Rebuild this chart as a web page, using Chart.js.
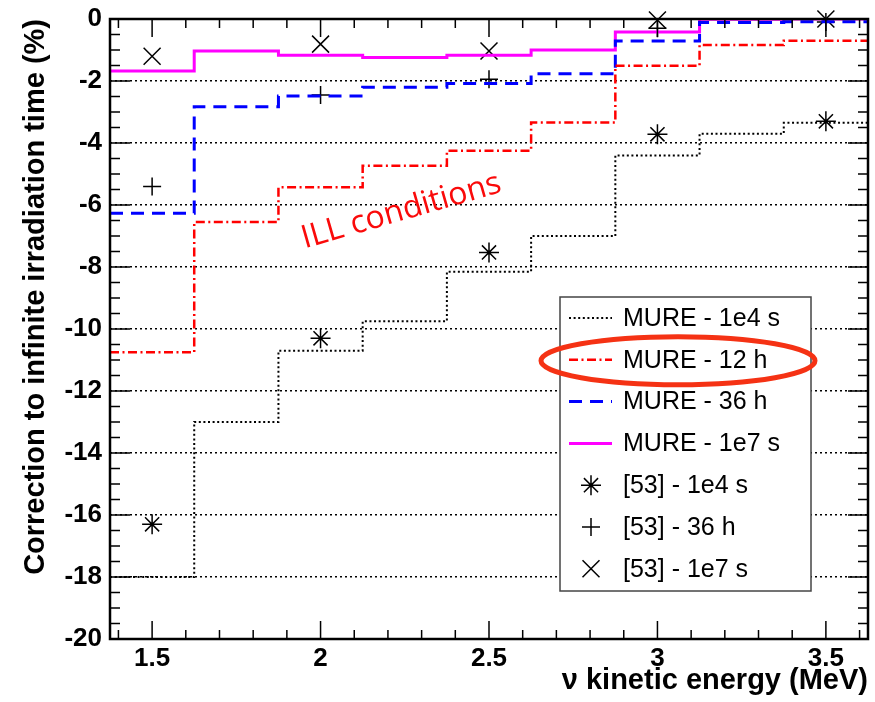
<!DOCTYPE html>
<html>
<head>
<meta charset="utf-8">
<script src="https://cdn.jsdelivr.net/npm/chart.js"></script>
<style>
  html, body { margin: 0; padding: 0; background: #fff; }
  #chart { display: block; }
</style>
</head>
<body>
<canvas id="chart" width="875" height="702"></canvas>
<script>
// energy bins (MeV), each 0.25 wide
const binCenters = [1.5, 1.75, 2.0, 2.25, 2.5, 2.75, 3.0, 3.25, 3.5];
const binWidth = 0.25;

// MURE correction (%) per bin
const mure1e4s = [-18.0, -13.0, -10.7, -9.75, -8.15, -7.0, -4.4, -3.7, -3.35];
const mure12h  = [-10.75, -6.55, -5.43, -4.73, -4.25, -3.34, -1.51, -0.84, -0.7];
const mure36h  = [-6.27, -2.83, -2.48, -2.2, -2.08, -1.77, -0.71, -0.11, -0.09];
const mure1e7s = [-1.68, -1.03, -1.17, -1.24, -1.17, -1.0, -0.42, -0.01, 0.0];

// reference [53] points
const refEnergies = [1.5, 2.0, 2.5, 3.0, 3.5];
const ref1e4s = [-16.3, -10.3, -7.53, -3.72, -3.3];
const ref36h  = [-5.4, -2.45, -1.94, -0.3, -0.1];
const ref1e7s = [-1.2, -0.81, -1.03, -0.03, 0.0];

const xTicks = [1.5, 2, 2.5, 3, 3.5];
const yTicks = [0, -2, -4, -6, -8, -10, -12, -14, -16, -18, -20];

const FONT = '"Liberation Sans", Arial, Helvetica, sans-serif';

// histogram outline: each bin gives a left and right corner
function stepLine(values) {
  const pts = [];
  values.forEach((v, i) => {
    pts.push({ x: binCenters[i] - binWidth / 2, y: v });
    pts.push({ x: binCenters[i] + binWidth / 2, y: v });
  });
  return pts;
}

function refPoints(ys) {
  return refEnergies.map((x, i) => ({ x: x, y: ys[i] }));
}

function drawMarker(ctx, style, r, px, py) {
  ctx.beginPath();
  const d = r * Math.SQRT1_2;
  if (style === 'cross' || style === 'star') {
    ctx.moveTo(px - r, py); ctx.lineTo(px + r, py);
    ctx.moveTo(px, py - r); ctx.lineTo(px, py + r);
  }
  if (style === 'crossRot' || style === 'star') {
    ctx.moveTo(px - d, py - d); ctx.lineTo(px + d, py + d);
    ctx.moveTo(px - d, py + d); ctx.lineTo(px + d, py - d);
  }
  ctx.stroke();
}

// ROOT-like frame with inward ticks on all four sides
const rootFrame = {
  id: 'rootFrame',
  afterDatasetsDraw(chart) {
    const { ctx, chartArea: a, scales: { x, y } } = chart;
    ctx.save();
    ctx.strokeStyle = '#000';
    ctx.lineWidth = 1.5;
    ctx.setLineDash([]);
    ctx.beginPath();
    for (let i = 14; i <= 36; i++) {
      const px = x.getPixelForValue(i / 10);
      const len = i % 5 === 0 ? 18 : 9;
      ctx.moveTo(px, a.bottom); ctx.lineTo(px, a.bottom - len);
      ctx.moveTo(px, a.top); ctx.lineTo(px, a.top + len);
    }
    for (let i = 0; i <= 40; i++) {
      const py = y.getPixelForValue(-i / 2);
      const len = i % 4 === 0 ? 20 : 10;
      ctx.moveTo(a.left, py); ctx.lineTo(a.left + len, py);
      ctx.moveTo(a.right, py); ctx.lineTo(a.right - len, py);
    }
    ctx.stroke();
    ctx.lineWidth = 2.5;
    ctx.strokeRect(a.left, a.top, a.right - a.left, a.bottom - a.top);
    ctx.restore();
  }
};

// boxed legend inside the frame, plus the hand-drawn annotations
const rootLegend = {
  id: 'rootLegend',
  afterDraw(chart) {
    const { ctx, chartArea: a, scales: { x, y } } = chart;
    const box = { left: a.right - 308, top: a.top + 278, width: 251, height: 294 };
    const rowH = 41.8;
    ctx.save();
    ctx.fillStyle = '#fff';
    ctx.fillRect(box.left, box.top, box.width, box.height);
    ctx.strokeStyle = '#444';
    ctx.lineWidth = 1.5;
    ctx.setLineDash([]);
    ctx.strokeRect(box.left, box.top, box.width, box.height);

    ctx.font = '25px ' + FONT;
    ctx.textBaseline = 'middle';
    ctx.textAlign = 'left';
    chart.data.datasets.forEach((ds, i) => {
      const ry = box.top + 21 + i * rowH;
      if (ds.showLine) {
        ctx.strokeStyle = ds.borderColor;
        ctx.lineWidth = ds.borderWidth;
        ctx.setLineDash(ds.borderDash || []);
        ctx.beginPath();
        ctx.moveTo(box.left + 9, ry);
        ctx.lineTo(box.left + 52, ry);
        ctx.stroke();
      } else {
        ctx.strokeStyle = ds.borderColor;
        ctx.lineWidth = ds.borderWidth;
        ctx.setLineDash([]);
        drawMarker(ctx, ds.pointStyle, ds.pointRadius, box.left + 31, ry);
      }
      ctx.fillStyle = '#000';
      ctx.fillText(ds.label, box.left + 63, ry + 1);
    });

    // red ellipse round the 12 h entry
    ctx.setLineDash([]);
    ctx.strokeStyle = 'rgb(245, 50, 20)';
    ctx.lineWidth = 5;
    ctx.beginPath();
    ctx.ellipse(box.left + 118, box.top + 21 + rowH + 1, 137, 24, 0, 0, Math.PI * 2);
    ctx.stroke();

    // "ILL conditions" label
    ctx.translate(x.getPixelForValue(2.24), y.getPixelForValue(-6.2));
    ctx.rotate(-16 * Math.PI / 180);
    ctx.fillStyle = 'rgb(250, 10, 10)';
    ctx.font = '32px "Open Sans", Lato, sans-serif';
    ctx.textAlign = 'center';
    ctx.fillText('ILL conditions', 0, 0);
    ctx.restore();
  }
};

const stepDefaults = { showLine: true, pointRadius: 0, pointHoverRadius: 0, fill: false, tension: 0 };
const markDefaults = { showLine: false, borderColor: '#000', backgroundColor: '#000', borderWidth: 1.5, clip: false };

const ctx = document.getElementById('chart').getContext('2d');
const chart = new Chart(ctx, {
  type: 'scatter',
  data: {
    datasets: [
      Object.assign({ label: 'MURE - 1e4 s', data: stepLine(mure1e4s), borderColor: '#000', borderWidth: 2, borderDash: [2, 2.6] }, stepDefaults),
      Object.assign({ label: 'MURE - 12 h', data: stepLine(mure12h), borderColor: '#ff0000', borderWidth: 2.5, borderDash: [9, 3.5, 2, 3.5] }, stepDefaults),
      Object.assign({ label: 'MURE - 36 h', data: stepLine(mure36h), borderColor: '#0000ff', borderWidth: 3, borderDash: [13, 8] }, stepDefaults),
      Object.assign({ label: 'MURE - 1e7 s', data: stepLine(mure1e7s), borderColor: '#ff00ff', borderWidth: 3 }, stepDefaults),
      Object.assign({ label: '[53] - 1e4 s', data: refPoints(ref1e4s), pointStyle: 'star', pointRadius: 10 }, markDefaults),
      Object.assign({ label: '[53] - 36 h', data: refPoints(ref36h), pointStyle: 'cross', pointRadius: 9 }, markDefaults),
      Object.assign({ label: '[53] - 1e7 s', data: refPoints(ref1e7s), pointStyle: 'crossRot', pointRadius: 12 }, markDefaults)
    ]
  },
  options: {
    responsive: false,
    animation: false,
    events: [],
    layout: { autoPadding: false, padding: { top: 19, right: 7, left: 0, bottom: 0 } },
    plugins: { legend: { display: false }, tooltip: { enabled: false } },
    scales: {
      x: {
        type: 'linear',
        min: 1.375,
        max: 3.625,
        afterBuildTicks: (scale) => { scale.ticks = xTicks.map(v => ({ value: v })); },
        afterFit: (scale) => {
          scale.height = 63;
          scale.paddingLeft = 0;
          scale.paddingRight = 0;
        },
        grid: { display: false, drawTicks: false },
        border: { display: false },
        ticks: {
          padding: 4,
          color: '#000',
          font: { family: FONT, size: 26, weight: 'bold' },
          callback: (v) => String(v)
        },
        title: {
          display: true,
          text: 'ν kinetic energy (MeV)',
          align: 'end',
          color: '#000',
          padding: { top: 0, bottom: 4 },
          font: { family: FONT, size: 29, weight: 'bold' }
        }
      },
      y: {
        type: 'linear',
        min: -20,
        max: 0,
        afterBuildTicks: (scale) => { scale.ticks = yTicks.map(v => ({ value: v })); },
        afterFit: (scale) => {
          scale.width = 110;
          scale.paddingTop = 0;
          scale.paddingBottom = 0;
        },
        grid: { display: true, drawTicks: false, color: '#000', lineWidth: 1.5 },
        border: { display: false, dash: [2, 3] },
        ticks: {
          padding: 8,
          color: '#000',
          font: { family: FONT, size: 26, weight: 'bold' },
          callback: (v) => String(v)
        },
        title: {
          display: true,
          text: 'Correction to infinite irradiation time (%)',
          align: 'end',
          color: '#000',
          padding: { top: 19, bottom: 0 },
          font: { family: FONT, size: 29, weight: 'bold' }
        }
      }
    }
  },
  plugins: [rootFrame, rootLegend]
});
</script>
</body>
</html>
